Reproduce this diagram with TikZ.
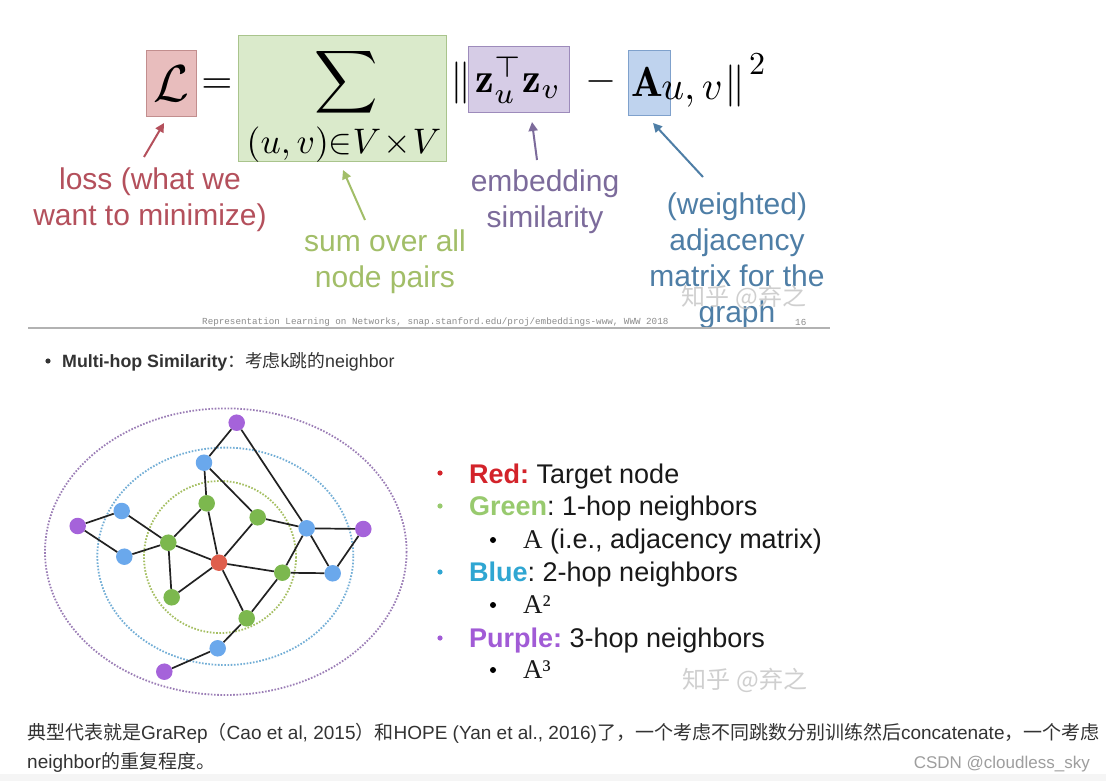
\documentclass[tikz,border=0pt]{standalone}
\usepackage{graphicx}
\usepackage{amsmath}
\usepackage{fontspec}
\newfontfamily\arial{Liberation Sans}
\newfontfamily\tmsf{Liberation Serif}
\newfontfamily\monof{Liberation Mono}
\newfontfamily\cjk{Noto Sans CJK SC}
\usetikzlibrary{arrows.meta}
\frenchspacing
\definecolor{lossc}{HTML}{B4505C}
\definecolor{sumc}{HTML}{A2BE68}
\definecolor{embc}{HTML}{7C6B9B}
\definecolor{adjc}{HTML}{4E7EA6}
\definecolor{lfill}{HTML}{E8BDBD}
\definecolor{ldraw}{HTML}{C28E8E}
\definecolor{sfill}{HTML}{DAEACB}
\definecolor{sdraw}{HTML}{A9C48C}
\definecolor{zfill}{HTML}{D6CCE6}
\definecolor{zdraw}{HTML}{9D8BBB}
\definecolor{afill}{HTML}{BFD3EE}
\definecolor{adraw}{HTML}{7FA1CC}
\definecolor{gn}{HTML}{7CB84E}
\definecolor{bn}{HTML}{6AA8EC}
\definecolor{pn}{HTML}{A563DA}
\definecolor{rn}{HTML}{DF5E4C}
\definecolor{gring}{HTML}{A5BF62}
\definecolor{bring}{HTML}{72AED6}
\definecolor{pring}{HTML}{9B7DB6}
\definecolor{edgec}{HTML}{222222}
\definecolor{txt}{HTML}{333333}
\definecolor{legred}{HTML}{D3232A}
\definecolor{leggreen}{HTML}{98CA6E}
\definecolor{legblue}{HTML}{2FA6D2}
\definecolor{legpurple}{HTML}{A15BD6}
\definecolor{wm}{HTML}{C4C4C4}
\newcommand\scm[2]{\scalebox{#1}{$#2$}}
\tikzset{
  mathf/.style={inner sep=0pt},
  fbox/.style={inner sep=0pt, line width=1pt},
  slidelbl/.style={inner sep=0pt, align=center, font=\arial\fontsize{30}{36}\selectfont},
  callout/.style={line width=2pt, -{Triangle[length=9pt,width=9pt]}},
  gnode/.style={circle, inner sep=0pt, minimum size=16.5pt, draw=none},
  gedge/.style={draw=edgec, line width=1.7pt},
  ring/.style={line width=1.8pt, dash pattern=on 1.6pt off 1.6pt},
  legtxt/.style={inner sep=0pt, anchor=base west, font=\arial\fontsize{27}{32}\selectfont, text=black!90},
  body/.style={inner sep=0pt, anchor=base west, text=txt, font=\fontsize{19}{22}\selectfont},
  watermark/.style={inner sep=0pt, text=wm, opacity=0.8, font=\cjk\fontsize{24}{28}\selectfont}
}
\begin{document}
\begin{tikzpicture}[x=1pt,y=-1pt]
\useasboundingbox (0,0) rectangle (1106,781);
\fill[white] (0,0) rectangle (1106,781);
\fill[black!4] (0,774) rectangle (1106,781);

% ---------- formula ----------
\node[fbox, draw=ldraw, fill=lfill, minimum width=50pt, minimum height=66pt] (Lbox) at (171,84) {\scm{5.2}{\mathcal{L}}};
\node[mathf] (eq) at (217,86) {\scm{4}{=}};
\node[fbox, draw=sdraw, fill=sfill, minimum width=208pt, minimum height=126pt] (Sbox) at (342,99) {};
\node[mathf] (sum) at (346,82) {\scm{4.4}{\displaystyle\sum}};
\node[mathf] (sumsub) at (344,145) {\scm{3.55}{(u,v){\in}V\!\times\! V}};
\node[mathf] (nl) at (461,83) {\scm{4.2}{\|}};
\node[fbox, draw=zdraw, fill=zfill, minimum width=101pt, minimum height=66pt] (Zbox) at (518.5,80) {\scm{4.2}{\mathbf{z}_u^{\top}\mathbf{z}_v}};
\node[mathf] (minus) at (601,82) {\scm{4}{-}};
\node[fbox, draw=adraw, fill=afill, minimum width=42pt, minimum height=65pt] (Abox) at (649,83.5) {};
\node[mathf] (A) at (647,82) {\scm{4.2}{\mathbf{A}}};
\node[mathf] (uv) at (692,95) {\scm{4}{u,v}};
\node[mathf] (nr) at (735,86) {\scm{4.2}{\|}};
\node[mathf] (sq) at (757,64) {\scm{3.2}{2}};

% ---------- labels ----------
\node[slidelbl, text=lossc] (loss) at (150,200) {loss (what we\\want to minimize)};
\node[slidelbl, text=sumc] (sumlbl) at (385,262) {sum over all\\node pairs};
\node[slidelbl, text=embc] (emb) at (545,202) {embedding\\similarity};
\node[slidelbl, text=adjc] (adj) at (737,261) {(weighted)\\adjacency\\matrix for the\\graph};

\coordinate (lossT) at (144,157); \coordinate (lossH) at (164,123);
\coordinate (sumT) at (365,220);  \coordinate (sumH) at (343,170);
\coordinate (embT) at (537,160);  \coordinate (embH) at (532,122);
\coordinate (adjT) at (703,177);  \coordinate (adjH) at (653,123);
\draw[callout, draw=lossc, color=lossc] (lossT) -- (lossH);
\draw[callout, draw=sumc, color=sumc] (sumT) -- (sumH);
\draw[callout, draw=embc, color=embc] (embT) -- (embH);
\draw[callout, draw=adjc, color=adjc] (adjT) -- (adjH);

\node[watermark] (wm1) at (744,297) {知乎 @弃之};

% footer of slide
\node[inner sep=0pt, anchor=west, text=black!45, font=\monof\fontsize{9.25}{10}\selectfont] (foot) at (202,322) {Representation Learning on Networks, snap.stanford.edu/proj/embeddings-www, WWW 2018};
\node[inner sep=0pt, anchor=west, text=black!45, font=\monof\fontsize{9.25}{10}\selectfont] (pg) at (795,322) {16};
\coordinate (ruleL) at (28,328); \coordinate (ruleR) at (830,328);
\draw[black!30, line width=1.5pt] (ruleL) -- (ruleR);

% ---------- bullet line ----------
\fill[txt] (48,361) circle (2.6pt);
\node[body, font=\fontsize{17.8}{20}\selectfont] (mh) at (62,367) {{\arial\bfseries Multi-hop Similarity}{\cjk ：考虑}{\arial k}{\cjk 跳的}{\arial neighbor}};

% ---------- graph ----------
\draw[ring, draw=pring] (225.8,551.7) ellipse [x radius=180.8, y radius=143.3];
\draw[ring, draw=bring] (225.3,556.3) ellipse [x radius=128, y radius=108.7];
\draw[ring, draw=gring] (220,557) circle [radius=76];

\node[gnode, fill=pn] (p1) at (236.7,422.7) {};
\node[gnode, fill=bn] (b1) at (204,462.7) {};
\node[gnode, fill=gn] (g1) at (206.7,503.3) {};
\node[gnode, fill=gn] (g2) at (257.7,517.3) {};
\node[gnode, fill=bn] (b2) at (306.7,528.3) {};
\node[gnode, fill=pn] (p2) at (363.3,529) {};
\node[gnode, fill=pn] (p3) at (77.7,526) {};
\node[gnode, fill=bn] (b3) at (121.7,511) {};
\node[gnode, fill=bn] (b4) at (124.3,556.7) {};
\node[gnode, fill=gn] (g3) at (168.3,542.7) {};
\node[gnode, fill=rn] (r) at (219,562.7) {};
\node[gnode, fill=gn] (g4) at (282.3,572.7) {};
\node[gnode, fill=bn] (b5) at (332.7,573.3) {};
\node[gnode, fill=gn] (g5) at (171.7,597.3) {};
\node[gnode, fill=gn] (g6) at (246.7,618.3) {};
\node[gnode, fill=bn] (b6) at (217.7,648.3) {};
\node[gnode, fill=pn] (p4) at (164.3,671.7) {};

\draw[gedge] (p1) -- (b1);
\draw[gedge] (p1) -- (b2);
\draw[gedge] (b1) -- (g1);
\draw[gedge] (b1) -- (g2);
\draw[gedge] (g1) -- (g3);
\draw[gedge] (g1) -- (r);
\draw[gedge] (g2) -- (r);
\draw[gedge] (g2) -- (b2);
\draw[gedge] (b2) -- (p2);
\draw[gedge] (b2) -- (g4);
\draw[gedge] (b2) -- (b5);
\draw[gedge] (p2) -- (b5);
\draw[gedge] (g4) -- (b5);
\draw[gedge] (g4) -- (r);
\draw[gedge] (g4) -- (g6);
\draw[gedge] (r) -- (g3);
\draw[gedge] (r) -- (g5);
\draw[gedge] (r) -- (g6);
\draw[gedge] (g3) -- (b3);
\draw[gedge] (g3) -- (b4);
\draw[gedge] (g3) -- (g5);
\draw[gedge] (p3) -- (b3);
\draw[gedge] (p3) -- (b4);
\draw[gedge] (g6) -- (b6);
\draw[gedge] (b6) -- (p4);

% ---------- legend ----------
\fill[legred] (440,473) circle (2.6pt);
\node[legtxt] (l1) at (469,483) {{\bfseries\color{legred}Red:} Target node};
\fill[leggreen] (440,506) circle (2.6pt);
\node[legtxt] (l2) at (469,515) {{\bfseries\color{leggreen}Green}: 1-hop neighbors};
\fill[black] (493,540) circle (3pt);
\node[legtxt] (l3) at (523,548) {{\tmsf A} (i.e., adjacency matrix)};
\fill[legblue] (440,572) circle (2.6pt);
\node[legtxt] (l4) at (469,581) {{\bfseries\color{legblue}Blue}: 2-hop neighbors};
\fill[black] (493,605) circle (3pt);
\node[legtxt] (l5) at (523,613) {{\tmsf A²}};
\fill[legpurple] (440,638) circle (2.6pt);
\node[legtxt] (l6) at (469,647) {{\bfseries\color{legpurple}Purple:} 3-hop neighbors};
\fill[black] (493,670) circle (3pt);
\node[legtxt] (l7) at (523,678) {{\tmsf A³}};

\node[watermark] (wm2) at (745,680) {知乎 @弃之};

% ---------- bottom text ----------
\node[body] (t1) at (27,739) {{\cjk 典型代表就是}{\arial GraRep}{\cjk （}{\arial Cao et al, 2015}{\cjk ）和}{\arial HOPE (Yan et al., 2016)}{\cjk 了，一个考虑不同跳数分别训练然后}{\arial concatenate}{\cjk ，一个考虑}};
\node[body] (t2) at (27,768) {{\arial neighbor}{\cjk 的重复程度。}};
\node[inner sep=0pt, anchor=base east, text=black!38, font=\arial\fontsize{17}{20}\selectfont] (csdn) at (1090,768) {CSDN @cloudless\_sky};
\end{tikzpicture}
\end{document}
